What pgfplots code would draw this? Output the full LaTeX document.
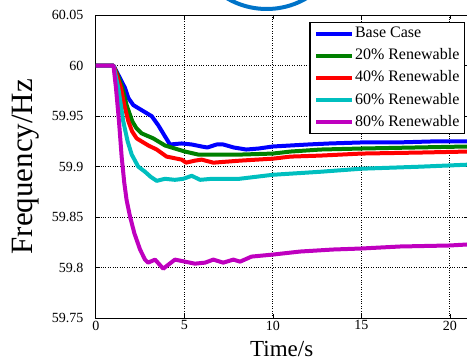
\documentclass[border=0pt]{standalone}
\usepackage{pgfplots}
\pgfplotsset{compat=1.18}
\usepackage{fontspec}
\setmainfont{Liberation Serif}
\definecolor{mblue}{RGB}{0,0,255}
\definecolor{mgreen}{RGB}{0,128,0}
\definecolor{mred}{RGB}{255,0,0}
\definecolor{mcyan}{RGB}{0,191,191}
\definecolor{mmag}{RGB}{191,0,191}
\definecolor{arcblue}{RGB}{0,115,200}
\begin{document}
\begin{tikzpicture}
\begin{axis}[
  scale only axis,
  width=371.7bp, height=303bp,
  xmin=0, xmax=21, ymin=59.75, ymax=60.05,
  xtick={0,5,10,15,20},
  ytick={59.75,59.8,59.85,59.9,59.95,60,60.05},
  xticklabel={\textrm{\pgfmathprintnumber[assume math mode=true]{\tick}}},
  yticklabel={\textrm{\pgfmathprintnumber[fixed,precision=2,assume math mode=true]{\tick}}},
  scaled y ticks=false,
  tick label style={font=\rmfamily\fontsize{14bp}{16bp}\selectfont},
  yticklabel style={xshift=-9bp},
  xticklabel style={yshift=1bp},
  tick align=inside,
  major tick length=4bp,
  tick style={black, line width=0.6bp},
  grid=major,
  grid style={black, dotted, line width=0.7bp},
  axis line style={black, line width=1.3bp},
  xlabel={Time/s},
  ylabel={Frequency/Hz},
  xlabel style={font=\fontsize{23bp}{26bp}\selectfont, at={(axis description cs:0.5,-0.0752)}, anchor=north, inner sep=0pt},
  ylabel style={font=\fontsize{31bp}{34bp}\selectfont, at={(axis description cs:-0.2265,0.5)}, anchor=north, inner sep=0pt},
  legend style={at={(axis description cs:0.9933,0.9776)}, anchor=north east,
    draw=black, line width=1.2bp, fill=white,
    font=\fontsize{16bp}{18bp}\selectfont,
    inner xsep=4bp, inner ysep=2bp, row sep=4.2bp,
    nodes={inner sep=1bp, text height=12bp, text depth=4bp}},
  legend cell align=left,
  legend image code/.code={\draw[#1] (0bp,0bp) -- (36bp,0bp);},
  every axis plot/.append style={line width=4bp, line join=round},
]
\addplot[mblue] coordinates {(0,60) (1,60) (1.27,59.991) (1.65,59.978) (1.84,59.968) (2.12,59.961) (2.4,59.958) (2.78,59.954) (3.16,59.95) (3.53,59.941) (3.91,59.93) (4.19,59.922) (4.85,59.923) (5.42,59.922) (5.98,59.92) (6.3,59.919) (6.83,59.922) (7.2,59.922) (7.8,59.919) (8.5,59.917) (9.2,59.918) (10,59.92) (11,59.921) (12,59.922) (13.2,59.923) (15,59.924) (17,59.924) (19,59.925) (21,59.925)};
\addlegendentry{Base Case}
\addplot[mgreen] coordinates {(0,60) (1,60) (1.25,59.99) (1.5,59.978) (1.74,59.961) (2.06,59.945) (2.3,59.938) (2.59,59.933) (3.25,59.928) (3.91,59.921) (4.47,59.918) (5.04,59.915) (5.79,59.912) (6.5,59.912) (8.15,59.912) (10,59.913) (11,59.915) (12.7,59.917) (15,59.918) (18,59.919) (21,59.920)};
\addlegendentry{20\% Renewable}
\addplot[mred] coordinates {(0,60) (1,60) (1.2,59.99) (1.42,59.978) (1.61,59.961) (1.84,59.945) (2.05,59.935) (2.31,59.928) (2.97,59.921) (3.44,59.917) (4.0,59.91) (4.85,59.907) (5.1,59.904) (5.6,59.906) (5.98,59.907) (6.64,59.904) (8.15,59.906) (10.03,59.908) (11,59.91) (12.7,59.911) (15,59.913) (18.3,59.914) (21,59.915)};
\addlegendentry{40\% Renewable}
\addplot[mcyan] coordinates {(0,60) (1,60) (1.27,59.978) (1.55,59.945) (1.8,59.925) (2.03,59.912) (2.4,59.9) (2.78,59.895) (3.1,59.89) (3.44,59.886) (3.91,59.888) (4.47,59.887) (4.94,59.888) (5.42,59.891) (5.89,59.887) (6.55,59.888) (8.1,59.888) (10,59.892) (12.7,59.895) (15,59.898) (18.3,59.900) (21,59.902)};
\addlegendentry{60\% Renewable}
\addplot[mmag] coordinates {(0,60) (1,60) (1.14,59.978) (1.31,59.945) (1.46,59.91) (1.61,59.884) (1.74,59.867) (1.93,59.851) (2.18,59.834) (2.5,59.818) (2.78,59.808) (2.95,59.805) (3.35,59.808) (3.81,59.799) (4.1,59.803) (4.47,59.808) (5.04,59.806) (5.6,59.804) (6.17,59.805) (6.64,59.808) (7.2,59.805) (7.77,59.808) (8.15,59.806) (8.8,59.811) (10,59.813) (11.54,59.816) (13.4,59.818) (15,59.819) (17.2,59.821) (20,59.822) (21,59.823)};
\addlegendentry{80\% Renewable}
\end{axis}
\draw[arcblue, line width=4bp] (170.9bp,387.7bp) circle (78.5bp);
\pgfresetboundingbox
\useasboundingbox (-95.8bp,-43.8bp) rectangle (371.2bp,318.2bp);
\end{tikzpicture}
\end{document}
